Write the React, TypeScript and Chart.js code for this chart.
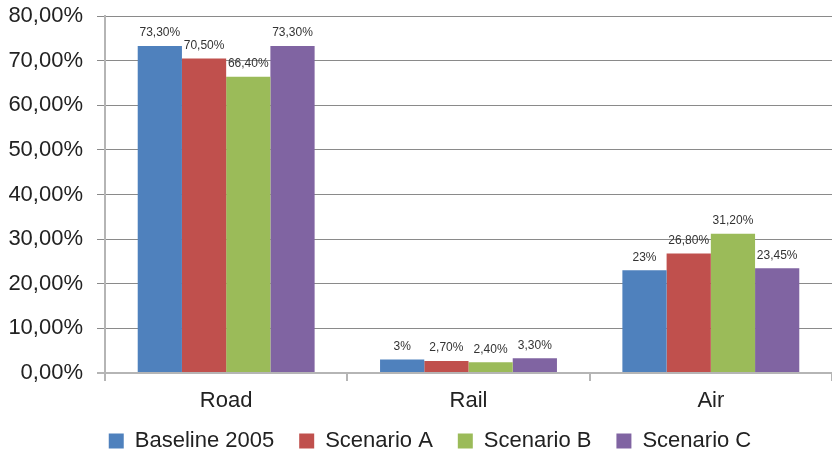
import React, { useEffect, useRef } from "react";
import { Chart, registerables } from "chart.js";

Chart.register(...registerables);

const categories = ["Road", "Rail", "Air"];
const seriesNames = ["Baseline 2005", "Scenario A", "Scenario B", "Scenario C"];
const baseline2005 = [73.3, 3, 23];
const scenarioA = [70.5, 2.7, 26.8];
const scenarioB = [66.4, 2.4, 31.2];
const scenarioC = [73.3, 3.3, 23.45];
const seriesColors = ["#4F81BD", "#C0504D", "#9BBB59", "#8064A2"];

const FONT = "'Liberation Sans', Arial, Helvetica, sans-serif";

function fmtLabel(v: number): string {
  if (Number.isInteger(v)) return v + "%";
  return v.toFixed(2).replace(".", ",") + "%";
}

const dataLabelPlugin = {
  id: "dataLabels",
  afterDatasetsDraw(chart: any) {
    const ctx = chart.ctx;
    ctx.save();
    ctx.font = `12px ${FONT}`;
    ctx.fillStyle = "#333333";
    ctx.textAlign = "center";
    ctx.textBaseline = "bottom";
    chart.data.datasets.forEach((ds: any, i: number) => {
      const meta = chart.getDatasetMeta(i);
      meta.data.forEach((el: any, j: number) => {
        ctx.fillText(fmtLabel(ds.data[j]), el.x, el.y - 7);
      });
    });
    ctx.restore();
  },
};

const legendShift = {
  id: "legendShift",
  afterLayout(chart: any) {
    const lg = chart.legend;
    if (!lg) return;
    const h = lg.height;
    lg.top = 405;
    lg.bottom = lg.top + h;
    lg.left += 14;
    lg.right += 14;
  },
};

export default function App() {
  const ref = useRef<HTMLCanvasElement>(null);
  useEffect(() => {
    if (!ref.current) return;
    const allSeries = [baseline2005, scenarioA, scenarioB, scenarioC];
    const chart = new Chart(ref.current, {
      type: "bar",
      data: {
        labels: categories,
        datasets: allSeries.map((d, i) => ({
          label: seriesNames[i],
          data: d,
          backgroundColor: seriesColors[i],
          borderWidth: 0,
          barPercentage: 1,
          categoryPercentage: 0.73,
        })),
      },
      options: {
        responsive: false,
        animation: false,
        layout: { padding: { top: 16, right: 0, left: 0, bottom: -21 } },
        plugins: {
          tooltip: { enabled: false },
          legend: {
            position: "bottom",
            labels: {
              boxWidth: 15,
              boxHeight: 15,
              padding: 25,
              color: "#222222",
              font: { family: FONT, size: 22 },
            },
          },
        },
        scales: {
          x: {
            afterFit(scale: any) {
              scale.height = 43;
              scale.paddingLeft = 0;
              scale.paddingRight = 0;
            },
            grid: {
              offset: true,
              drawOnChartArea: false,
              drawTicks: true,
              tickLength: 8,
              color: "#b5b5b5",
              lineWidth: 2,
            },
            border: { display: true, color: "#b5b5b5", width: 2 },
            ticks: {
              padding: 7,
              color: "#222222",
              font: { family: FONT, size: 22 },
            },
          },
          y: {
            min: 0,
            max: 80,
            afterFit(scale: any) {
              scale.width = 105;
              scale.paddingTop = 0;
              scale.paddingBottom = 0;
            },
            grid: {
              color: (c: any) => (c.tick && c.tick.value === 0 ? "#b5b5b5" : "#8a8a8a"),
              lineWidth: (c: any) => (c.tick && c.tick.value === 0 ? 2 : 1),
              tickLength: 8,
            },
            border: { display: true, color: "#b5b5b5", width: 2 },
            ticks: {
              stepSize: 10,
              padding: 14,
              color: "#222222",
              font: { family: FONT, size: 22 },
              callback: (v: any) => Number(v).toFixed(2).replace(".", ",") + "%",
            },
          },
        },
      },
      plugins: [dataLabelPlugin, legendShift],
    });
    return () => chart.destroy();
  }, []);
  return (
    <div style={{ position: "absolute", left: 0, top: 0, width: 832, height: 452, background: "#fff" }}>
      <canvas ref={ref} width={832} height={452} />
    </div>
  );
}
